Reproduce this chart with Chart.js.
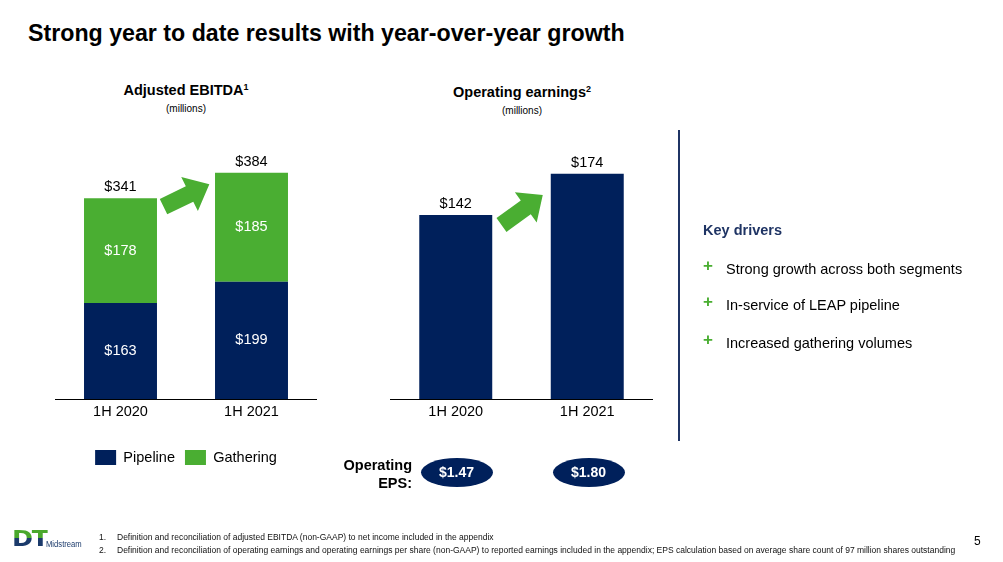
<!DOCTYPE html>
<html>
<head>
<meta charset="utf-8">
<script src="https://cdn.jsdelivr.net/npm/chart.js@4.4.1/dist/chart.umd.min.js"></script>
<style>
  html, body { margin: 0; padding: 0; background: #fff; }
  body { width: 1003px; height: 562px; position: relative; overflow: hidden;
         font-family: "Liberation Sans", Arial, sans-serif; color: #000; }
  .abs { position: absolute; }
  .title { left: 28px; top: 20px; font-size: 23.2px; font-weight: bold; white-space: nowrap; }
  .ctitle { width: 262px; text-align: center; font-size: 14.5px; font-weight: bold; }
  .ctitle sup { font-size: 9px; vertical-align: 5px; }
  .csub { width: 262px; text-align: center; font-size: 10px; }
  .divider { left: 678px; top: 130px; width: 2px; height: 311px; background: #1f3464; }
  .kd { left: 703px; top: 222px; font-size: 14.5px; font-weight: bold; color: #1f3464; }
  .drv { left: 703px; font-size: 14.5px; white-space: nowrap; }
  .drv b { color: #4aae32; display: inline-block; width: 23px; font-size: 17px; position: relative; top: -3px; }
  .epslbl { left: 330px; width: 82px; top: 456px; text-align: right; font-size: 14.5px; font-weight: bold; line-height: 18px; }
  .eps { width: 72px; height: 29px; border-radius: 50%; background: #00205b; color: #fff;
         font-weight: bold; font-size: 14px; text-align: center; line-height: 29px; top: 458px; }
  .foot { left: 99px; font-size: 8.5px; white-space: nowrap; color: #111; }
  .foot span { display: inline-block; width: 18px; }
  .pnum { left: 974px; top: 534px; font-size: 12px; }
  .logo-dt { left: 12px; top: 526px; font-family: "DejaVu Sans", sans-serif; font-weight: bold; font-size: 22px;
             letter-spacing: -1px; background: linear-gradient(180deg, #4aa82c 0 48%, #1b3a6b 48%);
             -webkit-background-clip: text; background-clip: text; color: transparent; transform: scaleX(1.15); transform-origin: left; }
  .logo-ms { left: 46px; top: 539px; font-size: 9px; color: #1b3a6b; transform: scaleX(0.85); transform-origin: left; }
  canvas { position: absolute; }
</style>
</head>
<body>
<div class="abs title">Strong year to date results with year-over-year growth</div>

<div class="abs ctitle" style="left:55px; top:82px;">Adjusted EBITDA<sup>1</sup></div>
<div class="abs csub" style="left:55px; top:103px;">(millions)</div>
<div class="abs ctitle" style="left:391px; top:84px;">Operating earnings<sup>2</sup></div>
<div class="abs csub" style="left:391px; top:105px;">(millions)</div>

<canvas id="ebitdaChart" width="262" height="341" style="left:55px; top:134px;"></canvas>
<canvas id="earningsChart" width="263" height="287" style="left:390px; top:140px;"></canvas>

<svg class="abs" style="left:0; top:0;" width="1003" height="562">
  <polygon fill="#4aae32" points="0,-8.5 29,-8.5 29,-19 51,0 29,19 29,8.5 0,8.5" transform="translate(163.5,206.7) rotate(-26)"/>
  <polygon fill="#4aae32" points="0,-8.5 30,-8.5 30,-18.6 51,0 30,18.6 30,8.5 0,8.5" transform="translate(501.5,225) rotate(-36)"/>
</svg>

<div class="abs divider"></div>
<div class="abs kd">Key drivers</div>
<div id="drivers"></div>

<div class="abs epslbl">Operating<br>EPS:</div>
<div id="epsRow"></div>

<div class="abs logo-dt">DT</div>
<div class="abs logo-ms">Midstream</div>
<div class="abs foot" style="top:532px;"><span>1.</span>Definition and reconciliation of adjusted EBITDA (non-GAAP) to net income included in the appendix</div>
<div class="abs foot" style="top:545px;"><span>2.</span>Definition and reconciliation of operating earnings and operating earnings per share (non-GAAP) to reported earnings included in the appendix; EPS calculation based on average share count of 97 million shares outstanding</div>
<div class="abs pnum">5</div>

<script>
// data
const periods = ['1H 2020', '1H 2021'];
const pipelineEbitda = [163, 199];
const gatheringEbitda = [178, 185];
const operatingEarnings = [142, 174];
const operatingEps = [1.47, 1.80];
const keyDrivers = [
    'Strong growth across both segments',
    'In-service of LEAP pipeline',
    'Increased gathering volumes'
];

const NAVY = '#00205b';
const GREEN = '#4aae32';
const FONT = '"Liberation Sans", Arial, sans-serif';

Chart.defaults.font.family = FONT;
Chart.defaults.color = '#000';

// $ labels on the bars (inside segments and/or total on top)
const valueLabels = {
    id: 'valueLabels',
    afterDatasetsDraw(chart, args, opts) {
        const ctx = chart.ctx;
        const sets = chart.data.datasets;
        ctx.save();
        ctx.font = '14.5px ' + FONT;
        ctx.textAlign = 'center';
        ctx.textBaseline = 'middle';
        if (opts.inside) {
            sets.forEach((ds, di) => {
                chart.getDatasetMeta(di).data.forEach((bar, i) => {
                    const p = bar.getProps(['x', 'y', 'base'], true);
                    ctx.fillStyle = '#fff';
                    ctx.fillText('$' + ds.data[i], p.x, (p.y + p.base) / 2);
                });
            });
        }
        if (opts.total) {
            chart.getDatasetMeta(sets.length - 1).data.forEach((bar, i) => {
                const total = sets.reduce((s, ds) => s + ds.data[i], 0);
                ctx.fillStyle = '#000';
                ctx.fillText('$' + total, bar.x, bar.y - 11);
            });
        }
        ctx.restore();
    }
};

function xAxis(height) {
    return {
        stacked: true,
        grid: { display: false, drawTicks: false },
        border: { display: true, color: '#000', width: 1 },
        ticks: { padding: 4, font: { size: 14.5 }, color: '#000', maxRotation: 0, autoSkip: false },
        afterFit(scale) { scale.height = height; }
    };
}

// ========== ADJUSTED EBITDA ==========
new Chart(document.getElementById('ebitdaChart'), {
    type: 'bar',
    data: {
        labels: periods,
        datasets: [
            { label: 'Pipeline', data: pipelineEbitda, backgroundColor: NAVY },
            { label: 'Gathering', data: gatheringEbitda, backgroundColor: GREEN }
        ]
    },
    options: {
        responsive: false,
        animation: false,
        layout: { padding: 0 },
        datasets: { bar: { categoryPercentage: 1, barPercentage: 0.557 } },
        scales: {
            x: xAxis(41),
            y: { stacked: true, display: false, min: 0, max: 450 }
        },
        plugins: {
            legend: {
                position: 'bottom',
                labels: { boxWidth: 21, boxHeight: 15, padding: 10, font: { size: 14.5 }, color: '#000' }
            },
            tooltip: { enabled: false },
            valueLabels: { inside: true, total: true }
        }
    },
    plugins: [valueLabels]
});

// ========== OPERATING EARNINGS ==========
new Chart(document.getElementById('earningsChart'), {
    type: 'bar',
    data: {
        labels: periods,
        datasets: [
            { label: 'Operating earnings', data: operatingEarnings, backgroundColor: NAVY }
        ]
    },
    options: {
        responsive: false,
        animation: false,
        layout: { padding: 0 },
        datasets: { bar: { categoryPercentage: 1, barPercentage: 0.555 } },
        scales: {
            x: xAxis(28),
            y: { display: false, min: 0, max: 200 }
        },
        plugins: {
            legend: { display: false },
            tooltip: { enabled: false },
            valueLabels: { inside: false, total: true }
        }
    },
    plugins: [valueLabels]
});

// EPS ovals under each operating earnings bar
const epsCenters = [456.5, 588.5];
document.getElementById('epsRow').innerHTML = operatingEps.map((v, i) =>
    `<div class="abs eps" style="left:${epsCenters[i] - 36}px;">$${v.toFixed(2)}</div>`
).join('');

// key drivers list
const driverTops = [259, 295, 333];
document.getElementById('drivers').innerHTML = keyDrivers.map((t, i) =>
    `<div class="abs drv" style="top:${driverTops[i]}px;"><b>+</b>${t}</div>`
).join('');
</script>
</body>
</html>
